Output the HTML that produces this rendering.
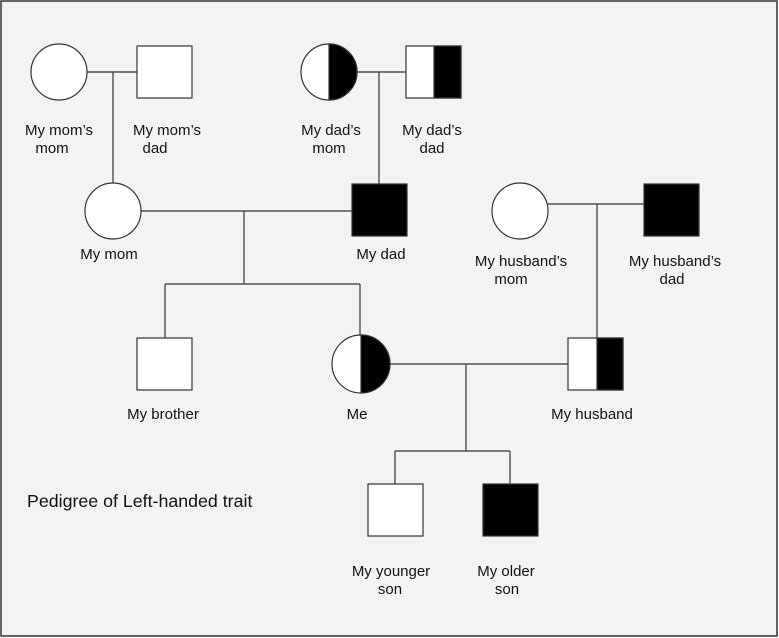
<!DOCTYPE html>
<html><head><style>
html,body{margin:0;padding:0;background:#fff;}
svg{display:block;}
text{font-family:"Liberation Sans",sans-serif;font-size:15px;fill:#111;}
</style></head><body>
<svg width="779" height="638" viewBox="0 0 779 638">
<rect x="1" y="1" width="776" height="635" fill="#f3f3f3" stroke="#333" stroke-width="1.5"/>
<g stroke="#333" stroke-width="1.2" fill="none">
<path d="M87 72H137M113 72V183"/>
<path d="M357 72H406M379 72V184"/>
<path d="M141 211H352M244 211V284M165 284H360M165 284V338M360 284V336"/>
<path d="M548 204H644M597 204V338"/>
<path d="M390 364H568M466 364V451M395 451H510M395 451V484M510 451V484"/>
</g>
<g stroke="#333" stroke-width="1.2">
<circle cx="59" cy="72" r="28" fill="#fff"/>
<rect x="137" y="46" width="55" height="52" fill="#fff"/>
<circle cx="329" cy="72" r="28" fill="#fff"/>
<path d="M329 44A28 28 0 0 1 329 100Z" fill="#000"/>
<rect x="406" y="46" width="55" height="52" fill="#fff"/>
<rect x="434" y="46" width="27" height="52" fill="#000"/>
<circle cx="113" cy="211" r="28" fill="#fff"/>
<rect x="352" y="184" width="55" height="52" fill="#000"/>
<circle cx="520" cy="211" r="28" fill="#fff"/>
<rect x="644" y="184" width="55" height="52" fill="#000"/>
<rect x="137" y="338" width="55" height="52" fill="#fff"/>
<circle cx="361" cy="364" r="29" fill="#fff"/>
<path d="M361 335A29 29 0 0 1 361 393Z" fill="#000"/>
<rect x="568" y="338" width="55" height="52" fill="#fff"/>
<rect x="597" y="338" width="26" height="52" fill="#000"/>
<rect x="368" y="484" width="55" height="52" fill="#fff"/>
<rect x="483" y="484" width="55" height="52" fill="#000"/>
</g>
<g text-anchor="middle">
<text x="59" y="135">My mom’s</text><text x="52" y="153">mom</text>
<text x="167" y="135">My mom’s</text><text x="155" y="153">dad</text>
<text x="331" y="135">My dad’s</text><text x="329" y="153">mom</text>
<text x="432" y="135">My dad’s</text><text x="432" y="153">dad</text>
<text x="109" y="259">My mom</text>
<text x="381" y="259">My dad</text>
<text x="521" y="266">My husband’s</text><text x="511" y="284">mom</text>
<text x="675" y="266">My husband’s</text><text x="672" y="284">dad</text>
<text x="163" y="419">My brother</text>
<text x="357" y="419">Me</text>
<text x="592" y="419">My husband</text>
<text x="391" y="576">My younger</text><text x="390" y="594">son</text>
<text x="506" y="576">My older</text><text x="507" y="594">son</text>
</g>
<text x="27" y="507" style="font-size:17.8px">Pedigree of Left-handed trait</text>
</svg>
</body></html>
